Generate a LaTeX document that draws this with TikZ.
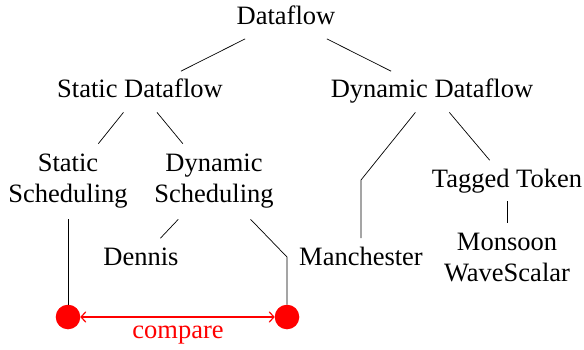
\documentclass[tikz,border=0pt]{standalone}
\usepackage{fontspec}
\setmainfont{Liberation Serif}
\usetikzlibrary{arrows.meta}
\begin{document}
\begin{tikzpicture}[x=1pt,y=-1pt,
  font=\fontsize{26.5}{31}\selectfont,
  one/.style={inner xsep=2pt, inner ysep=8.5pt, text height=18.1pt, text depth=5.7pt, anchor=base},
  two/.style={inner xsep=2pt, inner ysep=10.5pt, align=center, anchor=center},
  edge/.style={draw=black, line width=0.7pt},
  dot/.style={circle, fill=red, inner sep=0pt, minimum size=24.6pt},
  tip/.tip={Straight Barb[length=4.5pt,width=10pt,line width=1.2pt,round]},
  cmpline/.style={draw=red, line width=1.2pt, tip-tip}
]
\useasboundingbox (0,0) rectangle (584,350);
\node[one] (df)  at (286,24.5)  {Dataflow};
\node[one] (sdf) at (140,98)  {Static Dataflow};
\node[one] (ddf) at (432,98)  {Dynamic Dataflow};
\node[two] (ssch) at (68,181.5) {Static\\Scheduling};
\node[two] (dsch) at (214,181.5) {Dynamic\\Scheduling};
\node[one] (tt)  at (507,187) {Tagged Token};
\node[one] (dn)  at (141,265) {Dennis};
\node[one] (mc)  at (361,265) {Manchester};
\node[two] (ms)  at (507,258) {Monsoon\\WaveScalar};
\coordinate (k1) at (361,180);
\coordinate (k2) at (287,257);
\node[dot] (cl) at (68,317) {};
\node[dot] (cr) at (287,317) {};
\draw[edge] (df) -- (sdf);
\draw[edge] (df) -- (ddf);
\draw[edge] (sdf) -- (ssch);
\draw[edge] (sdf) -- (dsch);
\draw[edge] (ddf) -- (k1) -- (mc);
\draw[edge] (ddf) -- (tt);
\draw[edge] (tt) -- (ms);
\draw[edge] (dsch) -- (dn);
\draw[edge] (dsch) -- (k2) -- (cr);
\draw[edge] (ssch) -- (cl);
\draw[cmpline] (cl) -- (cr);
\node[red, anchor=base] (cmp) at (178,338) {compare};
\end{tikzpicture}
\end{document}
